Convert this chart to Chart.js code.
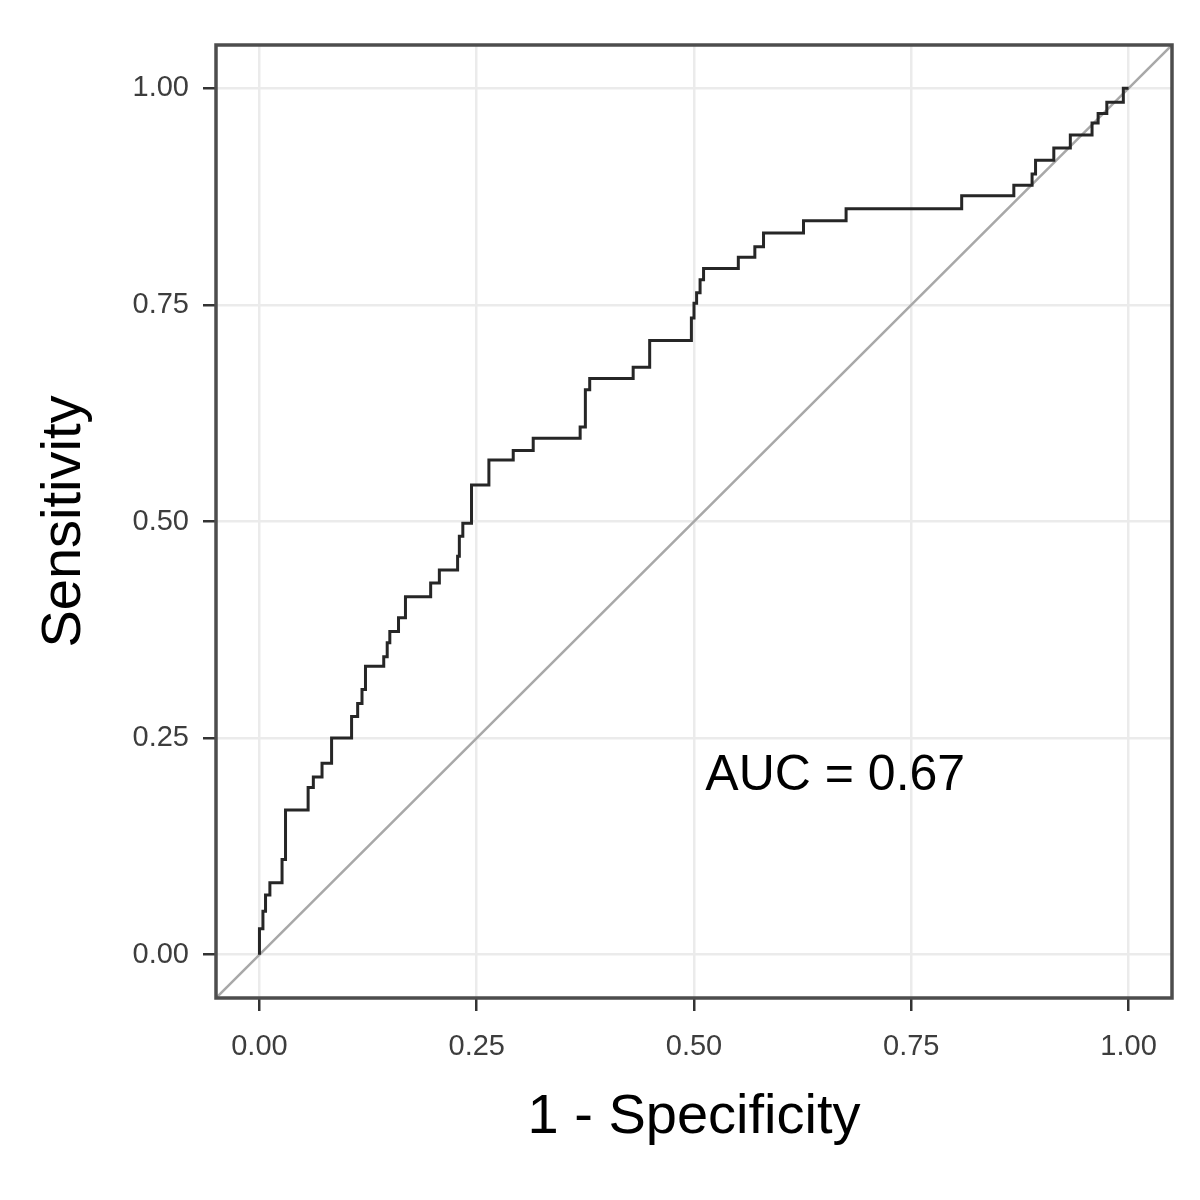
<!DOCTYPE html>
<html>
<head>
<meta charset="utf-8">
<script src="https://cdn.jsdelivr.net/npm/chart.js@4/dist/chart.umd.min.js"></script>
<style>
  body { margin: 0; background: #fff; }
  canvas { display: block; }
</style>
</head>
<body>
<canvas id="roc" width="1200" height="1200"></canvas>
<script>
// ROC curve corners (1 - specificity, sensitivity)
const fpr = [0, 0, 0.004, 0.004, 0.007, 0.007, 0.012, 0.012, 0.026, 0.026, 0.03, 0.03,
  0.056, 0.056, 0.062, 0.062, 0.072, 0.072, 0.083, 0.083, 0.106, 0.106, 0.113, 0.113,
  0.118, 0.118, 0.122, 0.122, 0.143, 0.143, 0.147, 0.147, 0.150, 0.150, 0.160, 0.160,
  0.168, 0.168, 0.197, 0.197, 0.207, 0.207, 0.228, 0.228, 0.230, 0.230, 0.234, 0.234,
  0.244, 0.244, 0.264, 0.264, 0.292, 0.292, 0.315, 0.315, 0.369, 0.369, 0.375, 0.375,
  0.380, 0.380, 0.430, 0.430, 0.449, 0.449, 0.497, 0.497, 0.500, 0.500, 0.503, 0.503,
  0.507, 0.507, 0.511, 0.511, 0.551, 0.551, 0.570, 0.570, 0.580, 0.580, 0.626, 0.626,
  0.675, 0.675, 0.808, 0.808, 0.868, 0.868, 0.889, 0.889, 0.893, 0.893, 0.914, 0.914,
  0.933, 0.933, 0.958, 0.958, 0.965, 0.965, 0.975, 0.975, 0.994, 0.994, 1];
const tpr = [0, 0.03, 0.03, 0.05, 0.05, 0.069, 0.069, 0.083, 0.083, 0.11, 0.11, 0.167,
  0.167, 0.193, 0.193, 0.205, 0.205, 0.221, 0.221, 0.25, 0.25, 0.275, 0.275, 0.29,
  0.29, 0.306, 0.306, 0.333, 0.333, 0.344, 0.344, 0.36, 0.36, 0.373, 0.373, 0.389,
  0.389, 0.413, 0.413, 0.429, 0.429, 0.444, 0.444, 0.46, 0.46, 0.483, 0.483, 0.498,
  0.498, 0.542, 0.542, 0.571, 0.571, 0.582, 0.582, 0.596, 0.596, 0.609, 0.609, 0.652,
  0.652, 0.665, 0.665, 0.678, 0.678, 0.709, 0.709, 0.735, 0.735, 0.752, 0.752, 0.764,
  0.764, 0.779, 0.779, 0.792, 0.792, 0.805, 0.805, 0.817, 0.817, 0.833, 0.833, 0.847,
  0.847, 0.861, 0.861, 0.876, 0.876, 0.888, 0.888, 0.901, 0.901, 0.917, 0.917, 0.931,
  0.931, 0.946, 0.946, 0.96, 0.96, 0.971, 0.971, 0.984, 0.984, 1, 1];

const diagX = [-0.05, 1.05];
const diagY = [-0.05, 1.05];

const tickValues = [0, 0.25, 0.5, 0.75, 1];
const tickLabels = ['0.00', '0.25', '0.50', '0.75', '1.00'];

const aucText = 'AUC = 0.67';
const aucX = 0.6625;
const aucY = 0.19;

const FONT = '"Liberation Sans", Arial, sans-serif';

const setTicks = (scale) => {
  scale.ticks = tickValues.map(v => ({ value: v }));
};

// frame, axis titles and the AUC note
const extras = {
  id: 'extras',
  afterDraw(chart) {
    const { ctx, chartArea, scales } = chart;
    ctx.save();
    ctx.strokeStyle = '#4d4d4d';
    ctx.lineWidth = 3.5;
    ctx.strokeRect(chartArea.left, chartArea.top,
      chartArea.right - chartArea.left, chartArea.bottom - chartArea.top);

    ctx.fillStyle = '#000';
    ctx.font = '50px ' + FONT;
    ctx.textAlign = 'center';
    ctx.textBaseline = 'alphabetic';
    ctx.fillText(aucText, scales.x.getPixelForValue(aucX), scales.y.getPixelForValue(aucY));

    ctx.font = '56px ' + FONT;
    ctx.fillText('1 - Specificity', (chartArea.left + chartArea.right) / 2, 1133);

    ctx.translate(80, (chartArea.top + chartArea.bottom) / 2);
    ctx.rotate(-Math.PI / 2);
    ctx.fillText('Sensitivity', 0, 0);
    ctx.restore();
  }
};

const tickFont = { family: FONT, size: 29 };

const axis = (extra) => Object.assign({
  type: 'linear',
  min: -0.05,
  max: 1.05,
  afterBuildTicks: setTicks,
  border: { display: false },
  grid: {
    color: '#ebebeb',
    lineWidth: 2.5,
    drawTicks: true,
    tickLength: 13,
    tickColor: '#333333',
    tickWidth: 2.5
  }
}, extra);

new Chart(document.getElementById('roc').getContext('2d'), {
  type: 'line',
  data: {
    datasets: [
      {
        label: 'ROC',
        data: fpr.map((x, i) => ({ x: x, y: tpr[i] })),
        borderColor: '#262626',
        borderWidth: 3,
        pointRadius: 0,
        tension: 0,
        fill: false
      },
      {
        label: 'Chance',
        data: diagX.map((x, i) => ({ x: x, y: diagY[i] })),
        borderColor: '#a8a8a8',
        borderWidth: 2.5,
        pointRadius: 0,
        tension: 0,
        fill: false
      }
    ]
  },
  options: {
    responsive: false,
    animation: false,
    layout: { padding: { top: 45, right: 28, left: 0, bottom: 0 } },
    plugins: {
      legend: { display: false },
      tooltip: { enabled: false }
    },
    scales: {
      x: axis({
        afterFit: (scale) => { scale.height = 202; },
        ticks: {
          autoSkip: false, maxRotation: 0, color: '#3d3d3d', padding: 19,
          font: tickFont,
          callback: (v, i) => tickLabels[i]
        }
      }),
      y: axis({
        afterFit: (scale) => { scale.width = 216; },
        ticks: {
          autoSkip: false, color: '#3d3d3d', padding: 14,
          font: tickFont,
          callback: (v, i) => tickLabels[i]
        }
      })
    }
  },
  plugins: [extras]
});
</script>
</body>
</html>
